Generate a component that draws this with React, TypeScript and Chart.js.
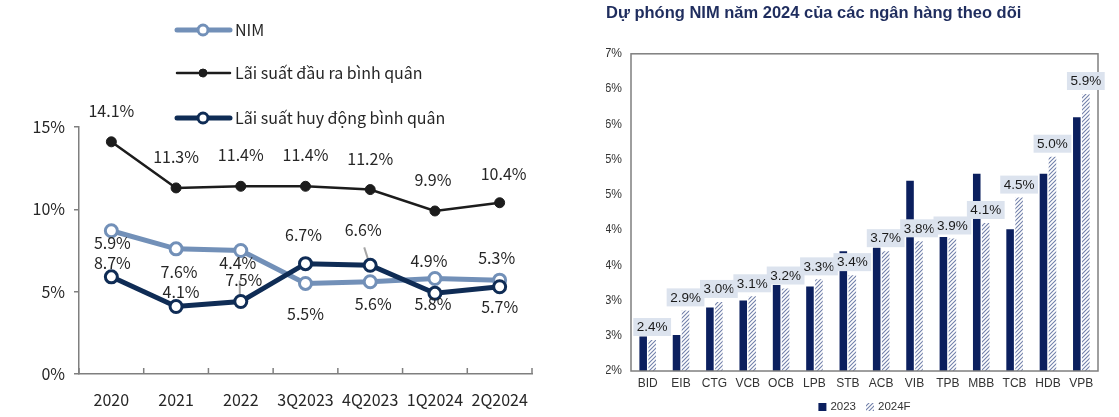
import React, { useEffect, useRef } from 'react';
import { Chart, registerables } from 'chart.js';

Chart.register(...registerables);

// ---------- Left chart data ----------
const periods = ['2020', '2021', '2022', '3Q2023', '4Q2023', '1Q2024', '2Q2024'];
const nimSeries = [8.7, 7.6, 7.5, 5.5, 5.6, 5.8, 5.7];
const lendingRate = [14.1, 11.3, 11.4, 11.4, 11.2, 9.9, 10.4];
const depositRate = [5.9, 4.1, 4.4, 6.7, 6.6, 4.9, 5.3];
const leftTickStep = 5;
const leftMax = 15;

// ---------- Right chart data ----------
const banks = ['BID', 'EIB', 'CTG', 'VCB', 'OCB', 'LPB', 'STB', 'ACB', 'VIB', 'TPB', 'MBB', 'TCB', 'HDB', 'VPB'];
const nim2023 = [2.49, 2.51, 2.9, 3.0, 3.22, 3.2, 3.7, 3.75, 4.7, 3.9, 4.8, 4.01, 4.8, 5.6];
const nim2024F = [2.44, 2.86, 2.98, 3.06, 3.17, 3.3, 3.36, 3.7, 3.84, 3.88, 4.1, 4.46, 5.04, 5.93];
const rightMin = 2;
const rightMax = 6.5;
const rightStep = 0.5;

const TITLE = 'Dự phóng NIM năm 2024 của các ngân hàng theo dõi';

// ---------- Styles ----------
const LFONT = '"Noto Sans CJK JP", "Noto Sans", sans-serif';
const LSIZE = 16;
const ARIAL = '"Liberation Sans", Arial, sans-serif';
const C_NIM = '#7290B8';
const C_LEND = '#1C1C1C';
const C_DEP = '#0F2C55';
const C_AXIS = '#7F7F7F';
const C_TEXT = '#262626';
const C_BAR = '#0B1F5E';
const C_HATCH = '#7180AA';
const C_LABELBOX = '#DCE3EE';

// label layout offsets (pixels relative to point) for the left chart
const LABEL_OFFSETS = [
  { dx: [1, 3, 3, 0, 3, -2, 0], dy: [32, 23, 29, 30, 22, 25, 27] }, // NIM
  { dx: [0, 0, 0, 0, 0, -2, 4], dy: [-31, -31, -31, -31, -31, -31, -29] }, // lending
  { dx: [1, 5, -3, -2, -7, -6, -3], dy: [-34, -15, -39, -29, -35, -32, -29] }, // deposit
];
const LEADERS = [
  { ds: 2, idx: 2, x1: -1, y1: -21, x2: -1, y2: -3 },
  { ds: 2, idx: 4, x1: -6, y1: -18, x2: -1.5, y2: -4 },
];

const leftDecor = {
  id: 'leftDecor',
  beforeDatasetsDraw(chart: any) {
    const ctx = chart.ctx;
    ctx.save();
    ctx.strokeStyle = '#A6A6A6';
    ctx.lineWidth = 2;
    LEADERS.forEach((l) => {
      const el = chart.getDatasetMeta(l.ds).data[l.idx];
      if (!el) return;
      ctx.beginPath();
      ctx.moveTo(el.x + l.x1, el.y + l.y1);
      ctx.lineTo(el.x + l.x2, el.y + l.y2);
      ctx.stroke();
    });
    ctx.restore();
  },
  afterDraw(chart: any) {
    const ctx = chart.ctx;
    const area = chart.chartArea;
    ctx.save();
    // upward x ticks at category boundaries
    const n = chart.data.labels.length;
    ctx.strokeStyle = C_AXIS;
    ctx.lineWidth = 1.5;
    for (let k = 0; k <= n; k++) {
      const x = area.left + (k * (area.right - area.left)) / n;
      ctx.beginPath();
      ctx.moveTo(x, area.bottom);
      ctx.lineTo(x, area.bottom - 6);
      ctx.stroke();
    }
    // data labels
    ctx.font = `${LSIZE}px ${LFONT}`;
    ctx.fillStyle = C_TEXT;
    ctx.textAlign = 'center';
    ctx.textBaseline = 'middle';
    chart.data.datasets.forEach((ds: any, i: number) => {
      const meta = chart.getDatasetMeta(i);
      meta.data.forEach((el: any, j: number) => {
        const off = LABEL_OFFSETS[i];
        ctx.fillText(ds.data[j].toFixed(1) + '%', el.x + off.dx[j], el.y + off.dy[j]);
      });
    });
    // legend
    const rows = [30, 73, 118];
    const x0 = 177;
    const x1 = 230;
    const xm = 203;
    chart.data.datasets.forEach((ds: any, i: number) => {
      const y = rows[i];
      ctx.strokeStyle = ds.borderColor;
      ctx.lineWidth = ds.borderWidth;
      ctx.lineCap = 'round';
      ctx.beginPath();
      ctx.moveTo(x0, y);
      ctx.lineTo(x1, y);
      ctx.stroke();
      ctx.beginPath();
      ctx.arc(xm, y, ds.pointRadius - 1, 0, Math.PI * 2);
      ctx.fillStyle = ds.pointBackgroundColor;
      ctx.fill();
      ctx.lineWidth = ds.pointBorderWidth;
      ctx.strokeStyle = ds.pointBorderColor;
      ctx.stroke();
      ctx.fillStyle = C_TEXT;
      ctx.textAlign = 'left';
      ctx.textBaseline = 'middle';
      ctx.font = `${LSIZE}px ${LFONT}`;
      ctx.fillText(ds.label, 235, y);
    });
    ctx.restore();
  },
};

const rightDecor = {
  id: 'rightDecor',
  afterDatasetsDraw(chart: any) {
    const ctx = chart.ctx;
    const a = chart.chartArea;
    ctx.save();
    ctx.strokeStyle = C_AXIS;
    ctx.lineWidth = 1.5;
    ctx.strokeRect(a.left, a.top, a.right - a.left, a.bottom - a.top);
    // labels for forecast series
    const meta = chart.getDatasetMeta(1);
    const data = chart.data.datasets[1].data;
    ctx.font = `13.5px ${ARIAL}`;
    ctx.textAlign = 'center';
    ctx.textBaseline = 'middle';
    meta.data.forEach((el: any, j: number) => {
      const txt = data[j].toFixed(1) + '%';
      const w = ctx.measureText(txt).width + 7;
      const h = 18;
      const bottom = el.y - 4;
      ctx.fillStyle = C_LABELBOX;
      ctx.fillRect(el.x - w / 2, bottom - h, w, h);
      ctx.fillStyle = '#1A1A1A';
      ctx.fillText(txt, el.x, bottom - h / 2 + 0.5);
    });
    ctx.restore();
  },
  afterDraw(chart: any) {
    // legend
    const ctx = chart.ctx;
    ctx.save();
    const y = 407;
    const items = chart.data.datasets;
    ctx.font = `11.5px ${ARIAL}`;
    ctx.textBaseline = 'middle';
    ctx.textAlign = 'left';
    const box = 8;
    const gap = 4;
    const spacing = 10;
    const widths = items.map((d: any) => box + gap + ctx.measureText(d.label).width);
    const total = widths.reduce((s: number, w: number) => s + w, 0) + spacing * (items.length - 1);
    const a = chart.chartArea;
    let x = (a.left + a.right) / 2 - total / 2;
    items.forEach((d: any, i: number) => {
      ctx.fillStyle = d.backgroundColor;
      ctx.fillRect(x, y - box / 2, box, box);
      ctx.fillStyle = '#333333';
      ctx.fillText(d.label, x + box + gap, y);
      x += widths[i] + spacing;
    });
    ctx.restore();
  },
};

function makeHatch(ctx: CanvasRenderingContext2D): CanvasPattern | string {
  const c = document.createElement('canvas');
  c.width = 4;
  c.height = 4;
  const g = c.getContext('2d');
  if (!g) return C_HATCH;
  g.fillStyle = '#ffffff';
  g.fillRect(0, 0, 4, 4);
  g.strokeStyle = C_HATCH;
  g.lineWidth = 1.1;
  g.beginPath();
  g.moveTo(0, 4);
  g.lineTo(4, 0);
  g.moveTo(-1, 1);
  g.lineTo(1, -1);
  g.moveTo(3, 5);
  g.lineTo(5, 3);
  g.stroke();
  return ctx.createPattern(c, 'repeat') || C_HATCH;
}

export default function App() {
  const leftRef = useRef<HTMLCanvasElement>(null);
  const rightRef = useRef<HTMLCanvasElement>(null);

  useEffect(() => {
    const lc = leftRef.current!;
    const rc = rightRef.current!;
    const left = new Chart(lc, {
      type: 'line',
      data: {
        labels: periods,
        datasets: [
          {
            label: 'NIM',
            data: nimSeries,
            borderColor: C_NIM,
            borderWidth: 5,
            pointRadius: 6,
            pointBorderWidth: 3,
            pointBackgroundColor: '#ffffff',
            pointBorderColor: C_NIM,
            order: 2,
          },
          {
            label: 'Lãi suất đầu ra bình quân',
            data: lendingRate,
            borderColor: C_LEND,
            borderWidth: 2.5,
            pointRadius: 5,
            pointBorderWidth: 1,
            pointBackgroundColor: C_LEND,
            pointBorderColor: C_LEND,
            order: 1,
          },
          {
            label: 'Lãi suất huy động bình quân',
            data: depositRate,
            borderColor: C_DEP,
            borderWidth: 5,
            pointRadius: 6,
            pointBorderWidth: 3,
            pointBackgroundColor: '#ffffff',
            pointBorderColor: C_DEP,
            order: 0,
          },
        ],
      },
      options: {
        responsive: false,
        animation: false,
        layout: { padding: { top: 127, right: 28, bottom: 0, left: 0 } },
        plugins: { legend: { display: false }, tooltip: { enabled: false }, title: { display: false } },
        scales: {
          x: {
            type: 'category',
            offset: true,
            grid: { display: false, drawTicks: false },
            border: { display: true, color: C_AXIS, width: 1.5 },
            ticks: { font: { family: LFONT, size: LSIZE }, color: C_TEXT, padding: 16, maxRotation: 0, autoSkip: false },
            afterFit: (s: any) => {
              s.height = 43;
            },
          },
          y: {
            min: 0,
            max: leftMax,
            ticks: {
              stepSize: leftTickStep,
              font: { family: LFONT, size: LSIZE },
              color: C_TEXT,
              padding: 9,
              callback: (v: any) => v + '%',
            },
            grid: { drawOnChartArea: false, drawTicks: true, tickLength: 5, color: C_AXIS, lineWidth: 1.5 },
            border: { display: true, color: C_AXIS, width: 1.5 },
            afterFit: (s: any) => {
              s.width = 79;
            },
          },
        },
      },
      plugins: [leftDecor],
    } as any);

    const rctx = rc.getContext('2d')!;
    const hatch = makeHatch(rctx);
    const right = new Chart(rc, {
      type: 'bar',
      data: {
        labels: banks,
        datasets: [
          { label: '2023', data: nim2023, backgroundColor: C_BAR, categoryPercentage: 0.54, barPercentage: 0.84 },
          { label: '2024F', data: nim2024F, backgroundColor: hatch, categoryPercentage: 0.54, barPercentage: 0.84 },
        ],
      },
      options: {
        responsive: false,
        animation: false,
        layout: { padding: { top: 0, right: 21, bottom: 0, left: 26 } },
        plugins: {
          tooltip: { enabled: false },
          legend: { display: false },
          title: {
            display: true,
            text: TITLE,
            align: 'start',
            color: '#1F2D5E',
            font: { family: ARIAL, size: 16.5, weight: 'bold' },
            padding: { top: 4, bottom: 30 },
          },
        },
        scales: {
          x: {
            grid: { display: false, drawTicks: false },
            border: { display: false },
            ticks: { font: { family: ARIAL, size: 12 }, color: '#333333', padding: 5, autoSkip: false, maxRotation: 0 },
            afterFit: (s: any) => {
              s.height = 46;
            },
          },
          y: {
            min: rightMin,
            max: rightMax,
            grid: { display: false, drawTicks: false },
            border: { display: false },
            ticks: {
              stepSize: rightStep,
              font: { family: ARIAL, size: 12 },
              color: '#333333',
              padding: 9,
              callback: (v: any) => Math.round(v) + '%',
            },
            afterFit: (s: any) => {
              s.width = 25;
            },
          },
        },
      },
      plugins: [rightDecor],
    } as any);

    return () => {
      left.destroy();
      right.destroy();
    };
  }, []);

  return (
    <div style={{ position: 'absolute', left: 0, top: 0, width: 1119, height: 417, background: '#ffffff' }}>
      <canvas ref={leftRef} width={560} height={417} style={{ position: 'absolute', left: 0, top: 0, width: 560, height: 417 }} />
      <canvas ref={rightRef} width={539} height={417} style={{ position: 'absolute', left: 580, top: 0, width: 539, height: 417 }} />
    </div>
  );
}
